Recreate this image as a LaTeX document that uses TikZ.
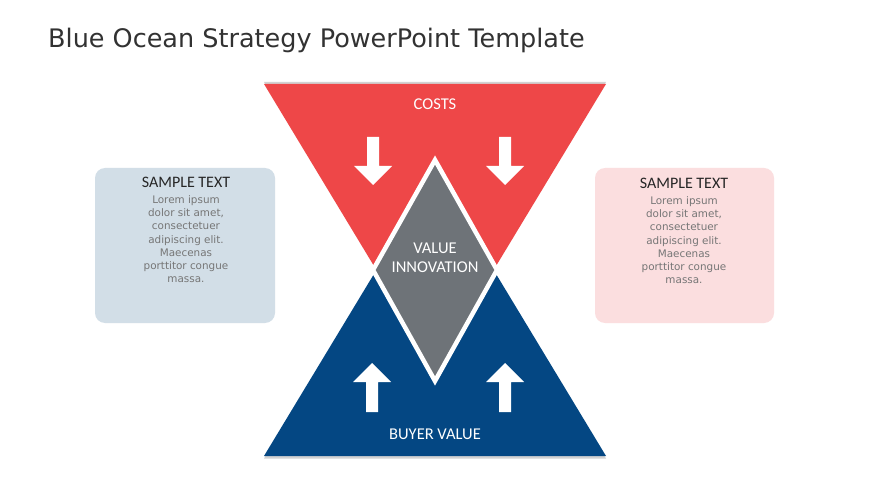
\documentclass[tikz,border=0pt]{standalone}
\usepackage{fontspec}
\setmainfont{DejaVu Sans}
\newfontfamily\labfont{Carlito}
\definecolor{redtri}{RGB}{238,71,72}
\definecolor{bluetri}{RGB}{4,71,131}
\definecolor{graydia}{RGB}{110,115,120}
\definecolor{leftbox}{RGB}{210,222,231}
\definecolor{rightbox}{RGB}{251,222,223}
\definecolor{bodygray}{RGB}{118,118,118}
\definecolor{titlegray}{RGB}{50,50,50}
\begin{document}
\begin{tikzpicture}[x=1pt,y=-1pt,
  infobox/.style={rounded corners=10pt,draw=none},
  boxhead/.style={font=\labfont\fontsize{16}{18}\selectfont,text=black!85,anchor=center},
  boxbody/.style={font=\fontsize{10.4}{13.2}\selectfont,text=bodygray,align=center,anchor=north},
  lab/.style={font=\labfont\fontsize{16.5}{20}\selectfont,text=white,align=center},
  arrowshape/.style={fill=white,draw=none}]
\useasboundingbox (0,0) rectangle (870,489);
\fill[white] (0,0) rectangle (870,489);
% title
\node[anchor=base west,inner sep=0,font=\fontsize{25.5}{30}\selectfont,text=titlegray] (title) at (48,48) {Blue Ocean Strategy PowerPoint Template};
% side boxes
\fill[infobox,fill=leftbox] (95,168) rectangle (275,323);
\fill[infobox,fill=rightbox] (595,168) rectangle (774,323);
\node[boxhead] (lhead) at (186,182) {SAMPLE TEXT};
\node[boxbody] (lbody) at (186,192) {Lorem ipsum\\dolor sit amet,\\consectetuer\\adipiscing elit.\\Maecenas\\porttitor congue\\massa.};
\node[boxhead] (rhead) at (684,183) {SAMPLE TEXT};
\node[boxbody] (rbody) at (684,193) {Lorem ipsum\\dolor sit amet,\\consectetuer\\adipiscing elit.\\Maecenas\\porttitor congue\\massa.};
% shadows
\fill[black!25,opacity=0.7] (264,82) -- (606,82) -- (435,365) -- cycle;
\fill[black!25,opacity=0.7] (264,458.5) -- (606,458.5) -- (435,175) -- cycle;
% triangles
\fill[redtri] (264,84) -- (606,84) -- (435,367) -- cycle;
\fill[bluetri] (264,456) -- (606,456) -- (435,173) -- cycle;
% diamond
\filldraw[fill=graydia,draw=white,line width=4.5pt,line join=miter] (435,160) -- (497,270) -- (435,381) -- (373,270) -- cycle;
% down arrows
\foreach \cx in {373,505}{
  \fill[arrowshape] (\cx-6,137) -- (\cx+6,137) -- (\cx+6,166) -- (\cx+19,166) -- (\cx,185) -- (\cx-19,166) -- (\cx-6,166) -- cycle;
}
% up arrows
\foreach \cx in {372,505}{
  \fill[arrowshape] (\cx-6,412) -- (\cx+6,412) -- (\cx+6,382) -- (\cx+19,382) -- (\cx,363) -- (\cx-19,382) -- (\cx-6,382) -- cycle;
}
% labels
\node[lab] (costs) at (435,104) {COSTS};
\node[lab] (vi) at (435,258) {VALUE\\[-1pt]INNOVATION};
\node[lab] (bv) at (435,434) {BUYER VALUE};
\end{tikzpicture}
\end{document}
